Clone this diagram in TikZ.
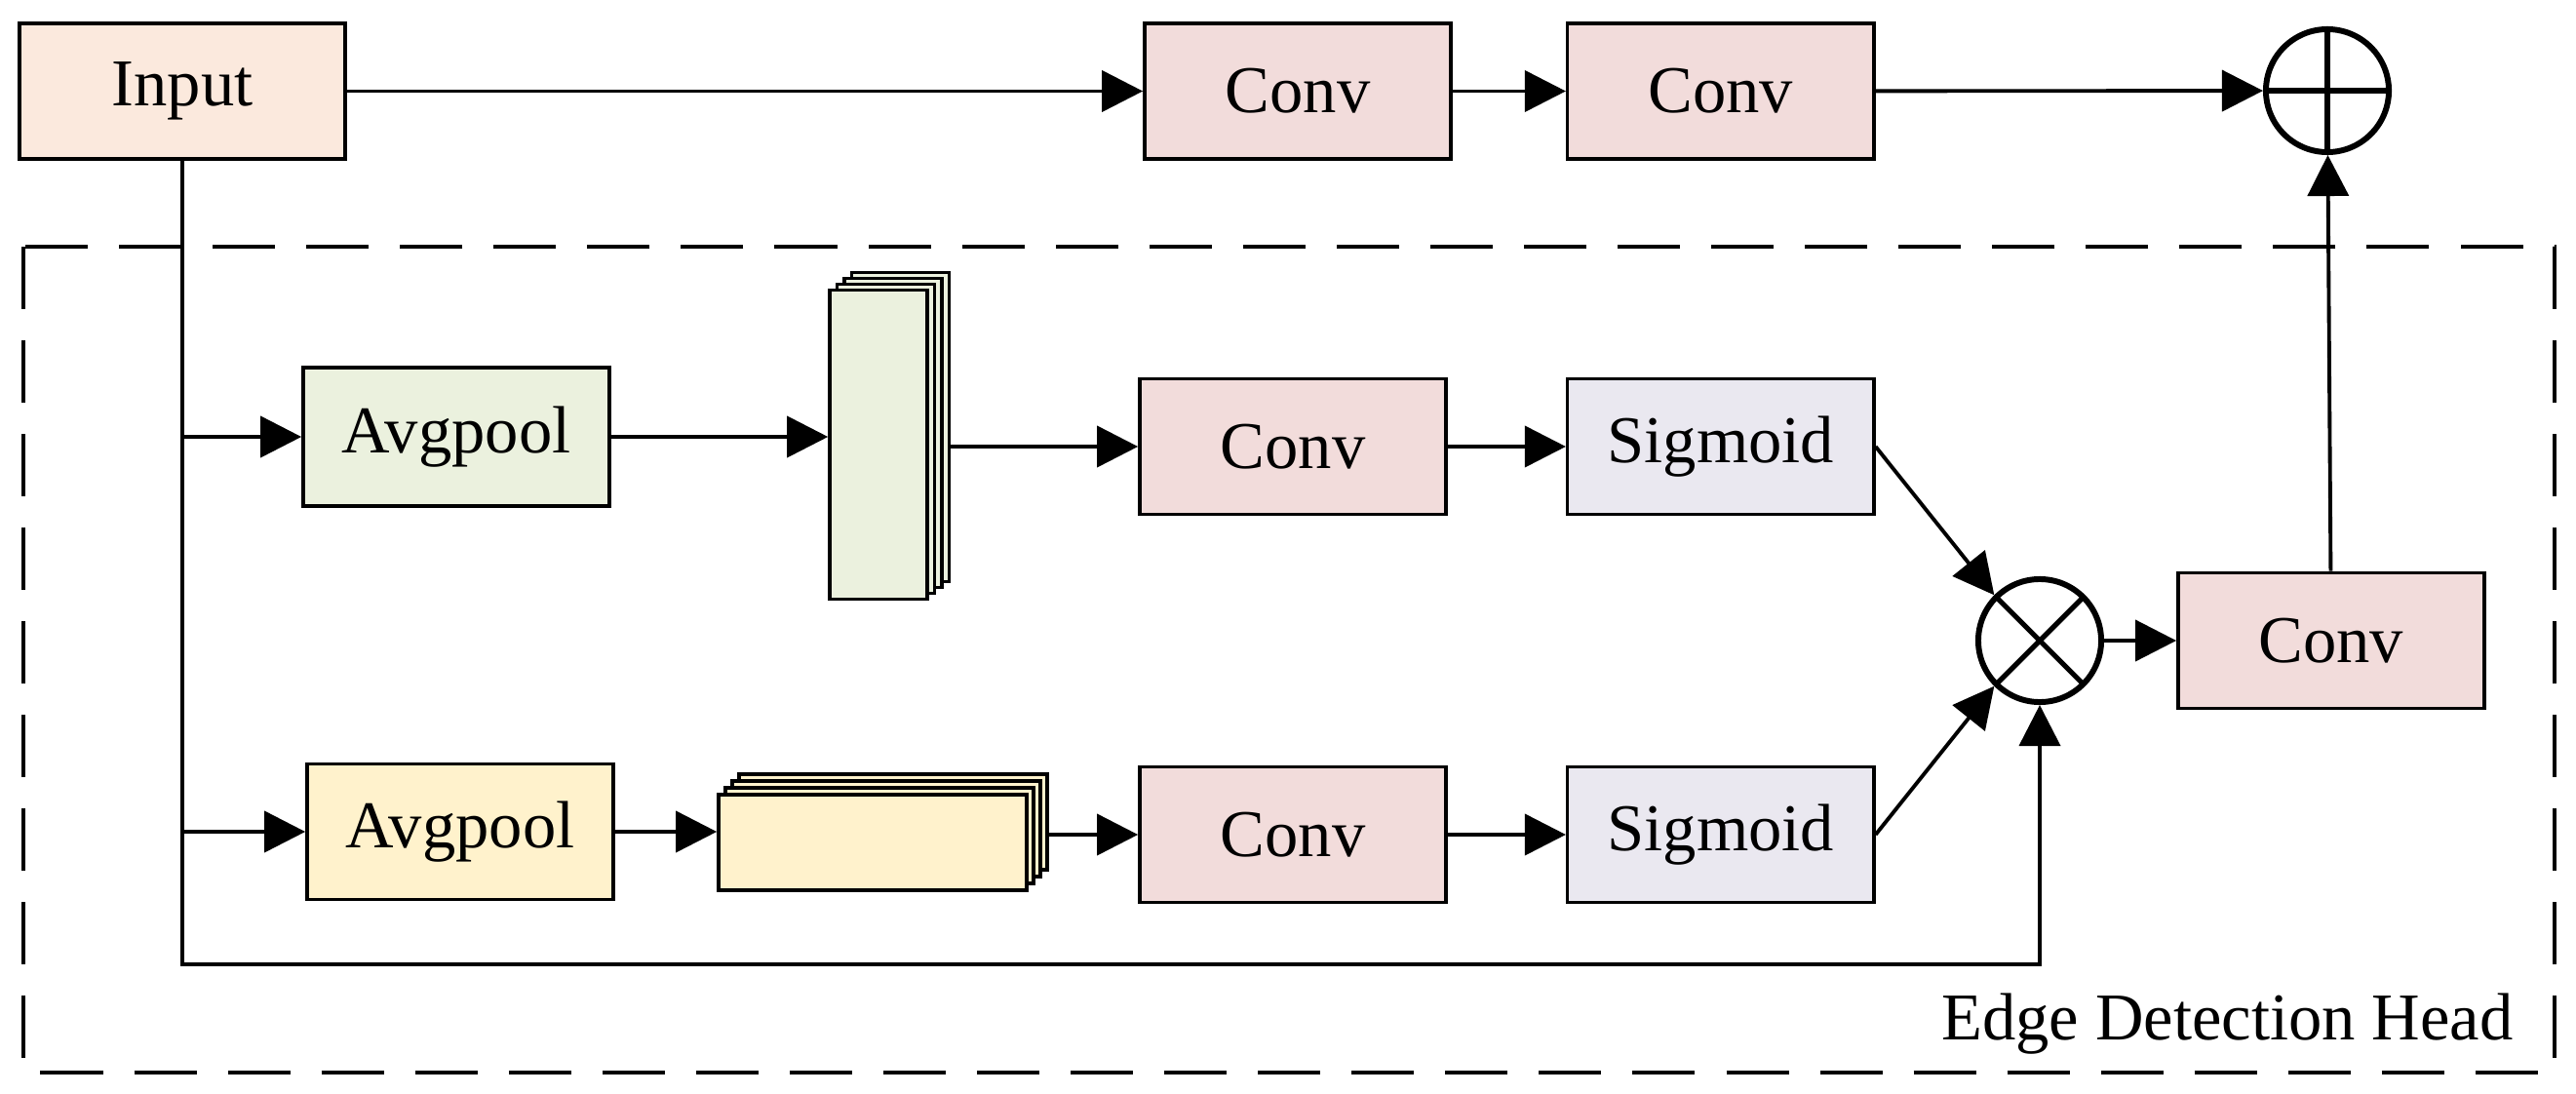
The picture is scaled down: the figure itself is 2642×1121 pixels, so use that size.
\documentclass[tikz,border=0pt]{standalone}
\usepackage{fontspec}
\setmainfont{Liberation Serif}
\usetikzlibrary{arrows.meta,positioning}

\definecolor{inputfill}{HTML}{FBE9DD}
\definecolor{convfill}{HTML}{F2DCDB}
\definecolor{greenfill}{HTML}{EBF1DE}
\definecolor{yellowfill}{HTML}{FFF2CC}
\definecolor{sigfill}{HTML}{EAE8F0}

\begin{document}
\begin{tikzpicture}[x=0.01cm, y=-0.01cm]
\tikzset{
  block/.style={rectangle, draw=black, line width=1pt,
    minimum width=31.4mm, minimum height=13.9mm, align=center,
    font=\fontsize{19.5}{23}\selectfont, inner sep=2pt},
  input/.style={block, fill=inputfill, minimum width=33.4mm},
  conv/.style={block, fill=convfill},
  poolg/.style={block, fill=greenfill, minimum height=14.2mm},
  pooly/.style={block, fill=yellowfill},
  sigm/.style={block, fill=sigfill},
  fmapg/.style={rectangle, draw=black, line width=1pt, fill=greenfill,
    minimum width=10mm, minimum height=31.7mm, inner sep=0pt},
  fmapy/.style={rectangle, draw=black, line width=1pt, fill=yellowfill,
    minimum width=31.6mm, minimum height=9.8mm, inner sep=0pt},
  op/.style={circle, draw=black, line width=1.7pt, minimum size=12.6mm, inner sep=0pt},
  plusop/.style={op, path picture={\draw[line width=1.5pt]
    (path picture bounding box.north) -- (path picture bounding box.south)
    (path picture bounding box.west) -- (path picture bounding box.east);}},
  timesop/.style={op, path picture={\draw[line width=1.5pt]
    (path picture bounding box.north west) -- (path picture bounding box.south east)
    (path picture bounding box.north east) -- (path picture bounding box.south west);}},
  flow/.style={-{Triangle[length=4.2mm,width=4.2mm]}, line width=1.1pt, draw=black},
  headframe/.style={draw=black, line width=1.1pt, dash pattern=on 6.4mm off 3.2mm},
  note/.style={font=\fontsize{19.5}{23}\selectfont}
}
\useasboundingbox (0,0) rectangle (2642,1121);

% top path
\node[input] (input) at (187,93.5) {Input};
\node[conv] (convt1) at (1331,93.5) {Conv};
\node[conv, right=11.6mm of convt1] (convt2) {Conv};
\node[plusop] (plus) at (2387,93) {};

% edge detection head
\draw[headframe] (24,253) rectangle (2620,1100);
\node[note, anchor=base east] (headlabel) at (2590,1066) {Edge Detection Head};

\node[poolg] (avg1) at (468,448) {Avgpool};
\foreach \k in {3,2,1}
  \node[fmapg] (fm1-\k) at (901+7.5*\k,456-6*\k) {};
\node[fmapg] (fm1) at (901,456) {};
\node[conv] (convm1) at (1326,458) {Conv};
\node[sigm, right=12.1mm of convm1] (sig1) {Sigmoid};

\node[pooly] (avg2) at (472,853) {Avgpool};
\foreach \k in {3,2,1}
  \node[fmapy] (fm2-\k) at (895+7*\k,864-7*\k) {};
\node[fmapy] (fm2) at (895,864) {};
\node[conv] (convm2) at (1326,856) {Conv};
\node[sigm, right=12.1mm of convm2] (sig2) {Sigmoid};

\node[timesop] (times) at (2092,657) {};
\node[conv, right=7.4mm of times] (convr) {Conv};
\coordinate (low) at (2092,989);

\draw[flow] (input) -- (convt1);
\draw[flow] (convt1) -- (convt2);
\draw[flow] (convt2) -- (plus);
\draw[flow] (convr) -- (plus);

\draw[flow] (input.south) |- (low) -- (times.south);
\draw[flow] (input.south |- avg1.west) -- (avg1.west);
\draw[flow] (input.south |- avg2.west) -- (avg2.west);

\draw[flow] (avg1.east) -- (avg1.east -| fm1.west);
\draw[flow] (fm1-3.east |- convm1.west) -- (convm1.west);
\draw[flow] (convm1) -- (sig1);
\draw[flow] (avg2.east) -- (avg2.east -| fm2.west);
\draw[flow] (fm2-3.east |- convm2.west) -- (convm2.west);
\draw[flow] (convm2) -- (sig2);

\draw[flow] (sig1.east) -- (times.north west);
\draw[flow] (sig2.east) -- (times.south west);
\draw[flow] (times) -- (convr);
\end{tikzpicture}
\end{document}
